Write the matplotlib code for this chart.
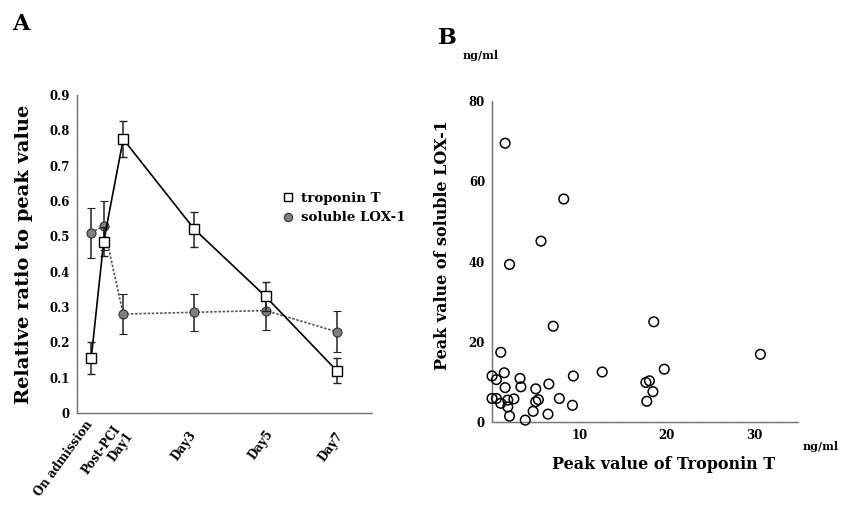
import matplotlib
matplotlib.use("Agg")
import matplotlib.pyplot as plt
from matplotlib.lines import Line2D
from matplotlib.transforms import ScaledTranslation

plt.rcParams['font.family'] = ['DejaVu Serif']
plt.rcParams['font.weight'] = 'bold'

# Panel A data
time_labels = ["On admission", "Post-PCI", "Day1", "Day3", "Day5", "Day7"]
time_days = [0.1, 0.45, 1, 3, 5, 7]
troponin = [0.155, 0.485, 0.775, 0.52, 0.33, 0.12]
troponin_err = [0.045, 0.04, 0.05, 0.05, 0.04, 0.035]
lox = [0.51, 0.53, 0.28, 0.285, 0.29, 0.23]
lox_err = [0.07, 0.07, 0.057, 0.052, 0.055, 0.058]
ya_ticks = [0, 0.1, 0.2, 0.3, 0.4, 0.5, 0.6, 0.7, 0.8, 0.9]
ya_ticklabels = ["0", "0.1", "0.2", "0.3", "0.4", "0.5", "0.6", "0.7", "0.8", "0.9"]

# Panel B data
tnt_peak = [1.5, 8.2, 5.6, 2.0, 7.0, 18.5, 30.7, 1.0, 19.7, 12.6, 9.3, 1.4, 0.0, 0.5,
            3.2, 3.3, 1.5, 5.0, 6.5, 17.6, 18.0, 18.4, 17.7, 7.7, 9.2, 0.0, 0.5, 1.0,
            1.8, 2.5, 1.8, 2.0, 3.8, 4.7, 5.0, 5.3, 6.4]
lox_peak = [69.5, 55.6, 45.1, 39.3, 23.9, 25.0, 16.9, 17.4, 13.2, 12.5, 11.5, 12.3,
            11.5, 10.6, 10.9, 8.8, 8.6, 8.3, 9.5, 9.9, 10.3, 7.6, 5.2, 5.9, 4.2, 5.9,
            5.9, 4.7, 5.5, 5.8, 3.8, 1.5, 0.5, 2.7, 5.1, 5.6, 2.0]
xb_ticks = [10, 20, 30]
yb_ticks = [0, 20, 40, 60, 80]

fig = plt.figure(figsize=(8.46, 5.08), dpi=100)

def style_spines(ax):
    for s in ['top', 'right']:
        ax.spines[s].set_visible(False)
    for s in ['left', 'bottom']:
        ax.spines[s].set_color('#777777')
        ax.spines[s].set_linestyle((0, (1, 0.6)))
        ax.spines[s].set_linewidth(1.0)

# ---------- Panel A ----------
axA = fig.add_axes([0.091, 0.187, 0.349, 0.626])
axA.errorbar(time_days, troponin, yerr=troponin_err, color='black', lw=1.2,
             marker='s', ms=6.5, mfc='white', mec='black', mew=1.0,
             capsize=2.8, elinewidth=1.1, ecolor='#222222', capthick=1.1, zorder=3)
axA.errorbar(time_days, lox, yerr=lox_err, color='#555555', lw=1.2, ls=(0, (1.5, 1)),
             marker='o', ms=6.5, mfc='#808080', mec='#333333', mew=0.8,
             capsize=2.8, elinewidth=1.1, ecolor='#222222', capthick=1.1, zorder=2)
axA.set_xlim(-0.3, 8.0)
axA.set_ylim(0, 0.9)
axA.tick_params(axis='x', length=0, pad=3)
axA.tick_params(axis='y', length=0, pad=5)
axA.set_yticks(ya_ticks)
axA.set_yticklabels(ya_ticklabels, fontsize=8.5, fontweight='bold')
axA.set_xticks(time_days)
axA.set_xticklabels(time_labels, rotation=54, ha='right', rotation_mode='anchor',
                    fontsize=8.5, fontweight='bold')
# per-label nudges in pixels (right, down) to mimic the original label placement
label_nudges = [(-6, 1), (9, 6), (2, 13), (-6, 11), (0, 11), (-1, 13)]
for lbl, (dx, dy) in zip(axA.get_xticklabels(), label_nudges):
    lbl.set_transform(lbl.get_transform() +
                      ScaledTranslation(dx / 100, -dy / 100, fig.dpi_scale_trans))
style_spines(axA)
axA.set_ylabel('Relative ratio to peak value', fontsize=14, fontweight='bold', labelpad=12)
handles = [
    Line2D([], [], ls='none', marker='s', ms=6, mfc='white', mec='black', mew=1.0),
    Line2D([], [], ls='none', marker='o', ms=6, mfc='#808080', mec='#333333', mew=0.8),
]
axA.legend(handles, ['troponin T', 'soluble LOX-1'], loc='upper left',
           bbox_to_anchor=(0.66, 0.73), frameon=False, fontsize=9.6,
           handlelength=0.8, handletextpad=0.6, labelspacing=0.5,
           borderpad=0.3)
fig.text(0.014, 0.953, 'A', fontsize=16, fontweight='bold', ha='left', va='center')

# ---------- Panel B ----------
axB = fig.add_axes([0.5816, 0.169, 0.3617, 0.632])
axB.scatter(tnt_peak, lox_peak, s=48, facecolors='none', edgecolors='black',
            linewidths=1.1, zorder=3, clip_on=False)
axB.set_xlim(0, 35)
axB.set_ylim(0, 80)
axB.set_xticks(xb_ticks)
axB.set_yticks(yb_ticks)
axB.tick_params(length=0, labelsize=8.5, pad=5)
for lbl in axB.get_xticklabels() + axB.get_yticklabels():
    lbl.set_fontweight('bold')
style_spines(axB)
axB.set_xlabel('Peak value of Troponin T', fontsize=11.5, fontweight='bold')
axB.set_ylabel('Peak value of soluble LOX-1', fontsize=11.5, fontweight='bold')
axB.xaxis.set_label_coords(0.559, -0.105)
axB.yaxis.set_label_coords(-0.134, 0.553)
fig.text(0.518, 0.925, 'B', fontsize=16, fontweight='bold', ha='left', va='center')
fig.text(0.547, 0.89, 'ng/ml', fontsize=8, fontweight='bold', ha='left', va='center')
fig.text(0.949, 0.122, 'ng/ml', fontsize=8, fontweight='bold', ha='left', va='center')

fig.savefig('out.png', dpi=100)
